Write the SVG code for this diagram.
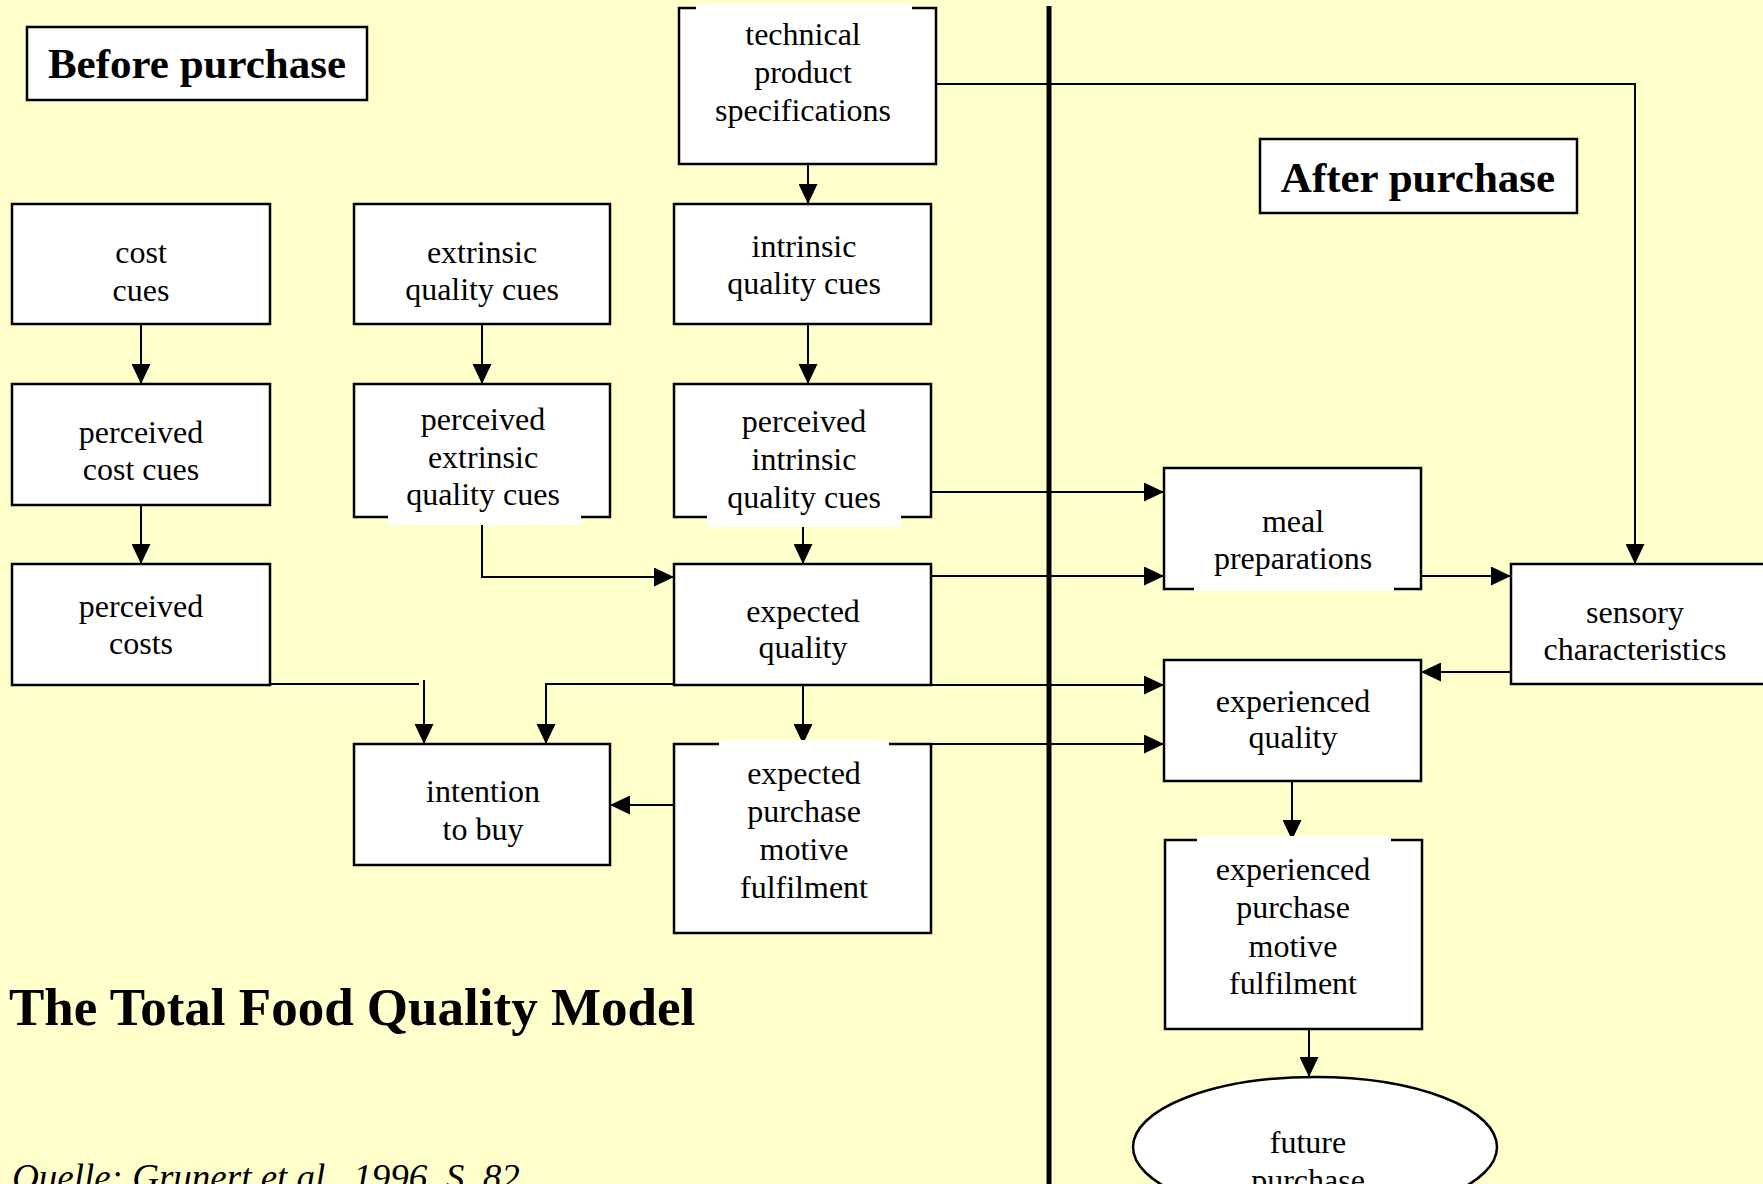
<svg xmlns="http://www.w3.org/2000/svg" width="1763" height="1184" viewBox="0 0 1763 1184">
<style>
.bg{fill:#FFFFCC}
.box{fill:#FFFFFF;stroke:#000;stroke-width:2.5}
.patch{fill:#FFFFFF;stroke:none}
.t{font-family:"Liberation Serif","Times New Roman",serif;font-size:32px;fill:#000;text-anchor:middle}
.h{font-family:"Liberation Serif","Times New Roman",serif;font-weight:bold;font-size:43px;fill:#000;text-anchor:middle}
.c{fill:none;stroke:#000;stroke-width:2}
.ca{fill:none;stroke:#000;stroke-width:2;marker-end:url(#arr)}
</style>
<defs>
<marker id="arr" viewBox="0 0 20 19" markerWidth="20" markerHeight="19" refX="20" refY="9.5" orient="auto" markerUnits="userSpaceOnUse">
<path d="M0,0 L20,9.5 L0,19 z" fill="#000"/>
</marker>
</defs>
<rect class="bg" x="0" y="0" width="1763" height="1184"/>

<g id="connectors">
<path class="ca" d="M808,164 V204"/>
<path class="ca" d="M930,84 H1635 V564"/>
<path class="ca" d="M141,324 V384"/>
<path class="ca" d="M482,324 V384"/>
<path class="ca" d="M808,324 V384"/>
<path class="ca" d="M141,505 V564"/>
<path class="ca" d="M482,525 V577 H674"/>
<path class="ca" d="M803,527 V564"/>
<path class="ca" d="M931,492 H1164"/>
<path class="ca" d="M928,576 H1164"/>
<path class="ca" d="M1421,576 H1511"/>
<path class="ca" d="M1511,672 H1421"/>
<path class="c" d="M270,684 H419"/>
<path class="ca" d="M424,680 V744"/>
<path class="ca" d="M674,684 H546 V744"/>
<path class="ca" d="M803,685 V744"/>
<path class="ca" d="M931,685 H1164"/>
<path class="ca" d="M931,744 H1164"/>
<path class="ca" d="M674,805 H610"/>
<path class="ca" d="M1292,781 V840"/>
<path class="ca" d="M1309,1029 V1077"/>
<line x1="1049" y1="6" x2="1049" y2="1184" stroke="#000" stroke-width="5"/>
</g>

<g id="before-purchase">
<rect class="box" x="27" y="27" width="340" height="73"/>
<text class="h" x="197" y="78">Before purchase</text>
</g>

<g id="after-purchase">
<rect class="box" x="1260" y="139" width="317" height="74"/>
<text class="h" x="1418" y="192">After purchase</text>
</g>

<g id="technical-product-specifications">
<rect class="box" x="679" y="8" width="257" height="156"/>
<rect class="patch" x="696" y="4" width="216" height="10"/>
<text class="t" x="803" y="45">technical</text>
<text class="t" x="803" y="83">product</text>
<text class="t" x="803" y="121">specifications</text>
</g>

<g id="cost-cues">
<rect class="box" x="12" y="204" width="258" height="120"/>
<text class="t" x="141" y="263">cost</text>
<text class="t" x="141" y="301">cues</text>
</g>

<g id="extrinsic-quality-cues">
<rect class="box" x="354" y="204" width="256" height="120"/>
<text class="t" x="482" y="263">extrinsic</text>
<text class="t" x="482" y="300">quality cues</text>
</g>

<g id="intrinsic-quality-cues">
<rect class="box" x="674" y="204" width="257" height="120"/>
<text class="t" x="804" y="257">intrinsic</text>
<text class="t" x="804" y="294">quality cues</text>
</g>

<g id="perceived-cost-cues">
<rect class="box" x="12" y="384" width="258" height="121"/>
<text class="t" x="141" y="443">perceived</text>
<text class="t" x="141" y="480">cost cues</text>
</g>

<g id="perceived-extrinsic-quality-cues">
<rect class="box" x="354" y="384" width="256" height="133"/>
<rect class="patch" x="388" y="508" width="193" height="17"/>
<text class="t" x="483" y="430">perceived</text>
<text class="t" x="483" y="468">extrinsic</text>
<text class="t" x="483" y="505">quality cues</text>
</g>

<g id="perceived-intrinsic-quality-cues">
<rect class="box" x="674" y="384" width="257" height="133"/>
<rect class="patch" x="707" y="508" width="194" height="19"/>
<text class="t" x="804" y="432">perceived</text>
<text class="t" x="804" y="470">intrinsic</text>
<text class="t" x="804" y="508">quality cues</text>
</g>

<g id="perceived-costs">
<rect class="box" x="12" y="564" width="258" height="121"/>
<text class="t" x="141" y="617">perceived</text>
<text class="t" x="141" y="654">costs</text>
</g>

<g id="expected-quality">
<rect class="box" x="674" y="564" width="257" height="121"/>
<text class="t" x="803" y="622">expected</text>
<text class="t" x="803" y="658">quality</text>
</g>

<g id="intention-to-buy">
<rect class="box" x="354" y="744" width="256" height="121"/>
<text class="t" x="483" y="802">intention</text>
<text class="t" x="483" y="840">to buy</text>
</g>

<g id="expected-purchase-motive-fulfilment">
<rect class="box" x="674" y="744" width="257" height="189"/>
<rect class="patch" x="719" y="740" width="170" height="8"/>
<text class="t" x="804" y="784">expected</text>
<text class="t" x="804" y="822">purchase</text>
<text class="t" x="804" y="860">motive</text>
<text class="t" x="804" y="898">fulfilment</text>
</g>

<g id="meal-preparations">
<rect class="box" x="1164" y="468" width="257" height="121"/>
<rect class="patch" x="1194" y="583" width="200" height="8"/>
<text class="t" x="1293" y="532">meal</text>
<text class="t" x="1293" y="569">preparations</text>
</g>

<g id="sensory-characteristics">
<rect class="box" x="1511" y="564" width="262" height="120"/>
<text class="t" x="1635" y="623">sensory</text>
<text class="t" x="1635" y="660">characteristics</text>
</g>

<g id="experienced-quality">
<rect class="box" x="1164" y="660" width="257" height="121"/>
<text class="t" x="1293" y="712">experienced</text>
<text class="t" x="1293" y="748">quality</text>
</g>

<g id="experienced-purchase-motive-fulfilment">
<rect class="box" x="1165" y="840" width="257" height="189"/>
<rect class="patch" x="1197" y="836" width="194" height="8"/>
<text class="t" x="1293" y="880">experienced</text>
<text class="t" x="1293" y="918">purchase</text>
<text class="t" x="1293" y="957">motive</text>
<text class="t" x="1293" y="994">fulfilment</text>
</g>

<g id="future-purchase">
<ellipse class="box" cx="1315" cy="1147" rx="182" ry="70"/>
<text class="t" x="1308" y="1153">future</text>
<text class="t" x="1308" y="1191">purchase</text>
</g>

<g id="title">
<text x="9" y="1025" font-family="'Liberation Serif','Times New Roman',serif" font-weight="bold" font-size="53" fill="#000">The Total Food Quality Model</text>
<text x="12" y="1190" font-family="'Liberation Serif','Times New Roman',serif" font-style="italic" font-size="37" fill="#000">Quelle: Grunert et al., 1996, S. 82</text>
</g>
</svg>
